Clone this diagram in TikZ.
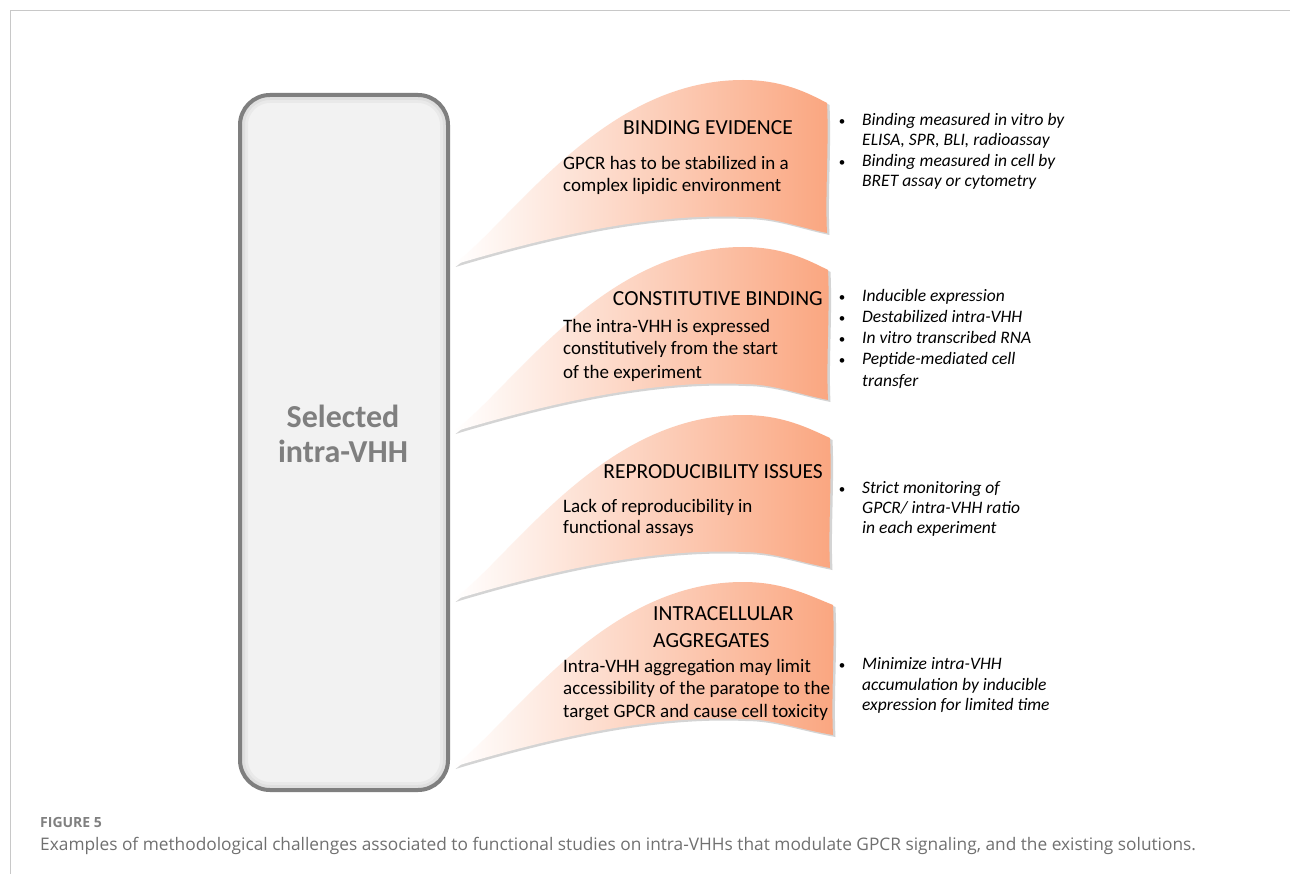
\documentclass[tikz,border=0pt]{standalone}
\usepackage{fontspec}
\setmainfont{Carlito}
\newfontfamily\capfont{Open Sans}
\usetikzlibrary{shadows}
\definecolor{flagc}{RGB}{250,166,128}
\definecolor{boxfill}{HTML}{F2F2F2}
\definecolor{boxline}{HTML}{7F7F7F}
\definecolor{framec}{HTML}{C8C8C8}
\definecolor{capc}{HTML}{707070}
\definecolor{figc}{HTML}{808080}
\tikzset{
  head/.style={font=\fontsize{21.5}{26}\selectfont, anchor=base west, inner sep=0pt},
  body/.style={font=\fontsize{19}{22}\selectfont, anchor=base west, inner sep=0pt},
  item/.style={font=\itshape\fontsize{17.5}{20}\selectfont, anchor=base west, inner sep=0pt},
  bul/.style={font=\fontsize{13}{20}\selectfont, anchor=base, inner sep=0pt},
  flagshape/.style={left color=white, right color=flagc,
    drop shadow={shadow xshift=2.5pt, shadow yshift=-2pt, opacity=0.28, fill=black!60}},
  selbox/.style={draw=boxline, line width=4pt, fill=boxfill, rounded corners=30pt,
    minimum width=208pt, minimum height=695pt, inner sep=0pt,
    path picture={
      \draw[boxline, line width=16pt, opacity=0.07, rounded corners=30pt]
        (path picture bounding box.south west) rectangle (path picture bounding box.north east);
      \draw[boxline, line width=10pt, opacity=0.09, rounded corners=30pt]
        (path picture bounding box.south west) rectangle (path picture bounding box.north east);
    }},
  seltext/.style={font=\bfseries\fontsize{32}{36}\selectfont, text=boxline, anchor=base, inner sep=0pt},
}
\begin{document}
\begin{tikzpicture}[x=1pt, y=-1pt]
\useasboundingbox (0,0) rectangle (1290,874);
\fill[white] (0,0) rectangle (1290,874);
% frame
\draw[framec, line width=1pt] (10,874) -- (10,10.5) -- (1290,10.5);

% flags
\foreach \T/\W in {265/374, 432/375, 600/377, 767/380}{
  \path[flagshape, shift={(453,\T)}]
    (0,0) .. controls (60,-45) and (150,-185) .. (290,-185)
    .. controls (330,-185) and (355,-172) .. (\W,-162)
    .. controls (\W+2,-120) and (\W-2,-70) .. (\W,-32)
    .. controls (345,-38) and (320,-48) .. (290,-48)
    .. controls (200,-52) and (100,-30) .. (0,0) -- cycle;
}

% selected box
\node[selbox] (sel) at (344,442.5) {};
\node[seltext] (sel1) at (343,427) {Selected};
\node[seltext] (sel2) at (343,462) {intra-VHH};

% flag 1
\node[head] (h1) at (623,135) {BINDING EVIDENCE};
\node[body] (b1a) at (563,170) {GPCR has to be stabilized in a};
\node[body] (b1b) at (563,192) {complex lipidic environment};
\node[bul] (d1a) at (842,126) {•};
\node[item] (i1a) at (862,126) {Binding measured in vitro by};
\node[item] (i1b) at (862,146) {ELISA, SPR, BLI, radioassay};
\node[bul] (d1c) at (842,167) {•};
\node[item] (i1c) at (862,167) {Binding measured in cell by};
\node[item] (i1d) at (862,187) {BRET assay or cytometry};

% flag 2
\node[head, anchor=base east] (h2) at (823,306) {CONSTITUTIVE BINDING};
\node[body] (b2a) at (563,333) {The intra-VHH is expressed};
\node[body] (b2b) at (563,355) {constitutively from the start};
\node[body] (b2c) at (563,378) {of the experiment};
\node[bul] (d2a) at (842,302) {•};
\node[item] (i2a) at (862,302) {Inducible expression};
\node[bul] (d2b) at (842,323) {•};
\node[item] (i2b) at (862,323) {Destabilized intra-VHH};
\node[bul] (d2c) at (842,344) {•};
\node[item] (i2c) at (862,344) {In vitro transcribed RNA};
\node[bul] (d2d) at (842,365) {•};
\node[item] (i2d) at (862,365) {Peptide-mediated cell};
\node[item] (i2e) at (862,386) {transfer};

% flag 3
\node[head, anchor=base east] (h3) at (823,478) {REPRODUCIBILITY ISSUES};
\node[body] (b3a) at (563,512) {Lack of reproducibility in};
\node[body] (b3b) at (563,533) {functional assays};
\node[bul] (d3a) at (842,493) {•};
\node[item] (i3a) at (862,493) {Strict monitoring of};
\node[item] (i3b) at (862,513) {GPCR/ intra-VHH ratio};
\node[item] (i3c) at (862,533) {in each experiment};

% flag 4
\node[head] (h4a) at (653,620) {INTRACELLULAR};
\node[head] (h4b) at (653,647) {AGGREGATES};
\node[body] (b4a) at (563,672) {Intra-VHH aggregation may limit};
\node[body] (b4b) at (563,694) {accessibility of the paratope to the};
\node[body] (b4c) at (563,717) {target GPCR and cause cell toxicity};
\node[bul] (d4a) at (842,669) {•};
\node[item] (i4a) at (862,669) {Minimize intra-VHH};
\node[item] (i4b) at (862,690) {accumulation by inducible};
\node[item] (i4c) at (862,710) {expression for limited time};

% caption
\node[font=\capfont\bfseries\fontsize{14}{17}\selectfont, text=figc, anchor=base west, inner sep=0pt] (fig) at (40,827) {FIGURE 5};
\node[font=\capfont\fontsize{17.3}{20}\selectfont, text=capc, anchor=base west, inner sep=0pt] (cap) at (40,850) {Examples of methodological challenges associated to functional studies on intra-VHHs that modulate GPCR signaling, and the existing solutions.};
\end{tikzpicture}
\end{document}
